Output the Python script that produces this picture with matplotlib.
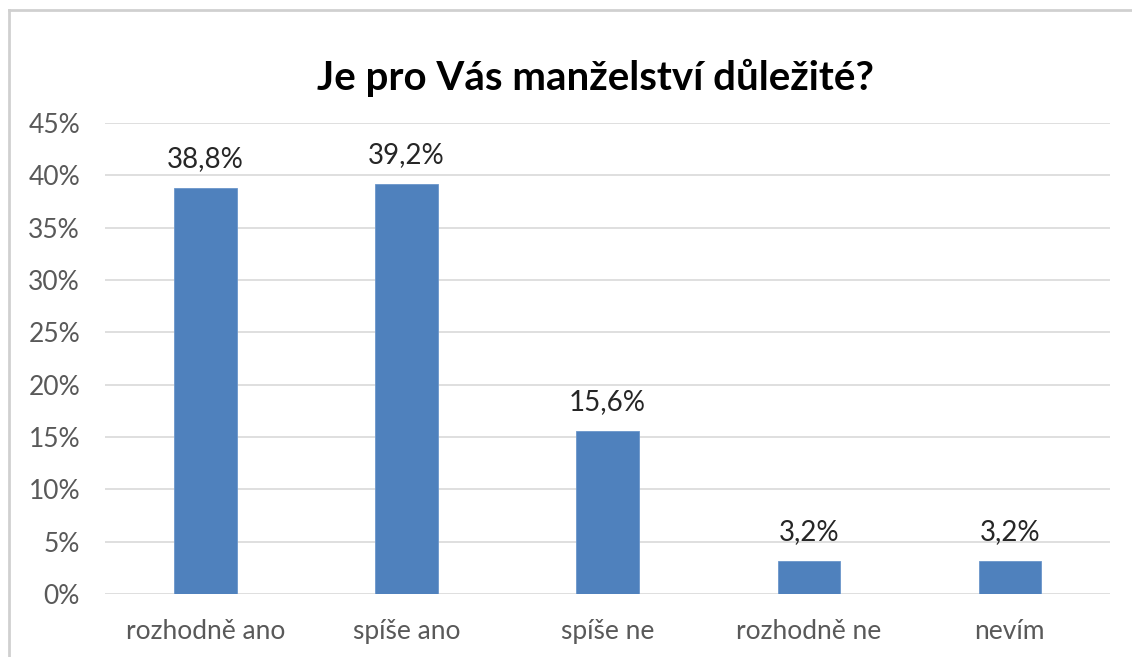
import matplotlib
matplotlib.use('Agg')
import matplotlib.pyplot as plt
from matplotlib.lines import Line2D
from matplotlib.ticker import FuncFormatter, MultipleLocator

# data
categories = ['rozhodně ano', 'spíše ano', 'spíše ne', 'rozhodně ne', 'nevím']
values = [38.8, 39.2, 15.6, 3.2, 3.2]
title = 'Je pro Vás manželství důležité?'

plt.rcParams['font.family'] = ['Lato', 'DejaVu Sans']

fig = plt.figure(figsize=(11.32, 6.57), dpi=100)
ax = fig.add_axes([0.0928, 0.0959, 0.888, 0.7169])

x = range(len(categories))
bars = ax.bar(x, values, width=0.31, color='#4F81BD', edgecolor='#6B96CB', linewidth=0.6, zorder=3)

for xi, v in zip(x, values):
    ax.annotate(f'{v:.1f}%'.replace('.', ','), (xi, v), xytext=(0, 15), textcoords='offset points',
                ha='center', va='baseline', fontsize=20, color='#262626')

ax.set_xlim(-0.5, len(categories) - 0.5)
ax.set_ylim(0, 45)
ax.yaxis.set_major_locator(MultipleLocator(5))
ax.yaxis.set_major_formatter(FuncFormatter(lambda v, p: f'{v:.0f}%'))
ax.set_xticks(list(x))
ax.set_xticklabels(categories)
ax.tick_params(axis='both', length=0, labelsize=19, labelcolor='#595959')
ax.tick_params(axis='y', pad=18)
ax.tick_params(axis='x', pad=18)
ax.grid(axis='y', color='#D9D9D9', linewidth=1.2, zorder=0)
for s in ax.spines.values():
    s.set_visible(False)

fig.text(0.526, 0.881, title, ha='center', va='center', fontsize=29, fontweight='bold', color='black')

# outer chart frame (left and top edges visible)
fig.add_artist(Line2D([9 / 1132, 9 / 1132], [0, 1 - 10 / 657], transform=fig.transFigure, color='#D0D0D0', linewidth=2))
fig.add_artist(Line2D([9 / 1132, 1], [1 - 10 / 657, 1 - 10 / 657], transform=fig.transFigure, color='#D0D0D0', linewidth=2))

fig.savefig('out.png', dpi=100)
